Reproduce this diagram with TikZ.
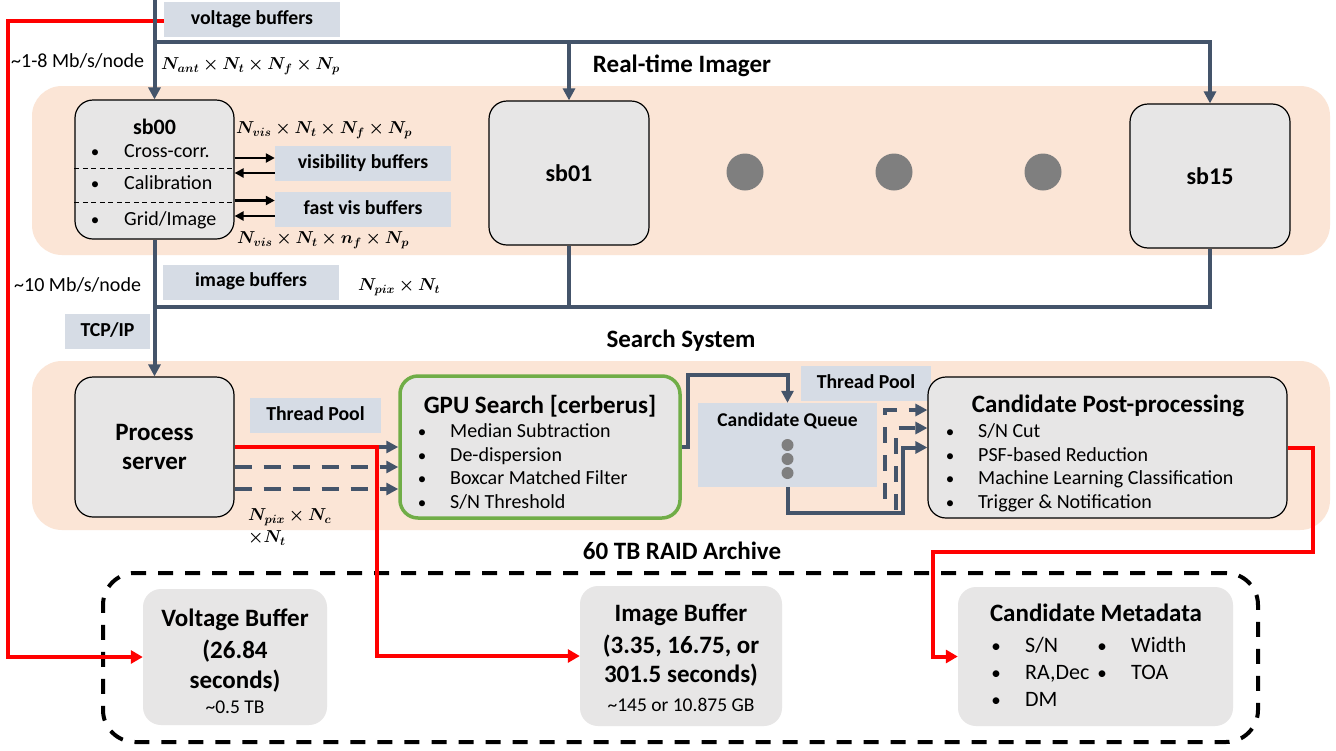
\documentclass[tikz,border=0pt]{standalone}
\usepackage{amsmath,bm}
\usepackage{fontspec}
\setmainfont{Carlito}
\usetikzlibrary{arrows.meta,calc}
\definecolor{dk}{HTML}{44546A}
\definecolor{peach}{HTML}{FBE5D6}
\definecolor{lblc}{HTML}{D6DCE5}
\definecolor{boxg}{HTML}{E7E6E6}
\definecolor{grn}{HTML}{70AD47}
\definecolor{dotg}{HTML}{7F7F7F}
\definecolor{rd}{HTML}{FF0000}
\tikzset{
  lblbox/.style={fill=lblc, minimum width=176pt, minimum height=35pt, inner sep=0pt,
    text height=13pt, text depth=4pt, font=\fontsize{19.8}{23}\selectfont\bfseries},
  sbbox/.style={draw=black, line width=1.2pt, fill=boxg, rounded corners=18pt, inner sep=0pt},
  stbox/.style={fill=boxg, rounded corners=18pt, inner sep=0pt},
  ttl/.style={inner sep=0pt, text height=17pt, text depth=5pt, font=\fontsize{25}{30}\selectfont\bfseries},
  qttl/.style={inner sep=0pt, text height=13pt, text depth=4pt, font=\fontsize{19.5}{23}\selectfont\bfseries},
  itm/.style={inner sep=0pt, anchor=west, text height=14pt, text depth=4pt, font=\fontsize{20}{24}\selectfont},
  bul/.style={inner sep=0pt, text height=14pt, text depth=4pt, font=\fontsize{17}{23}\selectfont},
  citm/.style={itm, font=\fontsize{22}{26}\selectfont},
  cbul/.style={bul, font=\fontsize{19}{25}\selectfont},
  small/.style={inner sep=0pt, text height=13pt, text depth=4pt, font=\fontsize{19.5}{23}\selectfont},
  mth/.style={inner sep=0pt, anchor=west, font=\fontsize{17.28}{22}\selectfont},
  dkline/.style={draw=dk, line width=4pt},
  dkarrow/.style={dkline, -{Triangle[length=12pt,width=12pt]}},
  dkdash/.style={dkarrow, dash pattern=on 17pt off 12pt},
  bkarrow/.style={draw=black, line width=2.6pt, -{Triangle[length=9pt,width=9pt]}},
  rdarrow/.style={draw=rd, line width=4pt, -{Triangle[length=12pt,width=13pt]}},
  sep/.style={draw=black, line width=1pt, dash pattern=on 5pt off 3.5pt},
}
\begin{document}
\begin{tikzpicture}[x=1pt,y=-1pt]
\fill[white] (0,0) rectangle (1336,750);
\path[use as bounding box] (0,0) rectangle (1336,750);

% panels
\fill[peach, rounded corners=30pt] (32,86) rectangle (1330,255);
\fill[peach, rounded corners=30pt] (32,361) rectangle (1330,530);
\node[draw=black, line width=4pt, dash pattern=on 15pt off 12pt, rounded corners=32pt,
  minimum width=1155pt, minimum height=169pt, inner sep=0pt] (arch) at (680.5,657.5) {};

% titles
\node[ttl] (tRTI) at (682,66) {Real-time Imager};
\node[ttl] (tSS) at (681,341) {Search System};
\node[ttl] (tRA) at (682,553) {60 TB RAID Archive};

% rate labels
\node[itm] (rate1) at (11,62) {\textasciitilde 1-8 Mb/s/node};
\node[itm] (rate2) at (14,286) {\textasciitilde 10 Mb/s/node};

% label boxes
\node[lblbox] (vbuf) at (252,19.5) {voltage buffers};
\node[lblbox] (visb) at (363,163.5) {visibility buffers};
\node[lblbox] (fvb) at (363,209.5) {fast vis buffers};
\node[lblbox] (ibuf) at (251,282) {image buffers};
\node[lblbox, minimum width=85pt] (tcp) at (107.5,331.5) {TCP/IP};
\node[lblbox, minimum width=131pt] (tp1) at (315.5,415.5) {Thread Pool};
\node[lblbox, minimum width=130pt] (tp2) at (866,383.5) {Thread Pool};
\node[lblbox, minimum width=179pt, minimum height=84pt] (queue) at (787.5,445) {};
\node[qttl] (queueT) at (787.5,422) {Candidate Queue};
\node[circle, fill=dotg, minimum size=12pt, inner sep=0pt] (qd1) at (787.5,445) {};
\node[circle, fill=dotg, minimum size=12pt, inner sep=0pt] (qd2) at (787.5,459) {};
\node[circle, fill=dotg, minimum size=12pt, inner sep=0pt] (qd3) at (787.5,473) {};

% imager boxes
\node[sbbox, minimum width=159pt, minimum height=139pt] (sb00) at (154.5,169.5) {};
\node[inner sep=0pt, font=\fontsize{22}{26}\selectfont\bfseries] (sb00t) at (154.5,127) {sb00};
\draw[sep] (sb00.west |- 0,168) -- (sb00.east |- 0,168);
\draw[sep] (sb00.west |- 0,202) -- (sb00.east |- 0,202);
\node[bul] (sbb1) at (95,152) {\textbullet};
\node[itm] (sbi1) at (124,152) {Cross-corr.};
\node[bul] (sbb2) at (95,184) {\textbullet};
\node[itm] (sbi2) at (124,184) {Calibration};
\node[bul] (sbb3) at (95,220) {\textbullet};
\node[itm] (sbi3) at (124,220) {Grid/Image};

\node[sbbox, minimum width=160pt, minimum height=144pt, font=\fontsize{24}{30}\selectfont\bfseries] (sb01) at (569,173) {sb01};
\node[sbbox, minimum width=160pt, minimum height=144pt, font=\fontsize{24}{30}\selectfont\bfseries] (sb15) at (1210,176) {sb15};
\node[circle, fill=dotg, minimum size=37pt, inner sep=0pt] (dot1) at (745,172) {};
\node[circle, fill=dotg, minimum size=37pt, inner sep=0pt] (dot2) at (894,172) {};
\node[circle, fill=dotg, minimum size=37pt, inner sep=0pt] (dot3) at (1043,172) {};

% math labels
\node[mth] (m1) at (161,66) {$\bm{N_{ant}\times N_t\times N_f\times N_p}$};
\node[mth] (m2) at (236,130) {$\bm{N_{vis}\times N_t\times N_f\times N_p}$};
\node[mth] (m3) at (237,240) {$\bm{N_{vis}\times N_t\times n_f\times N_p}$};
\node[mth] (m4) at (358,287) {$\bm{N_{pix}\times N_t}$};
\node[mth] (m5) at (248,517) {$\bm{N_{pix}\times N_c}$};
\node[mth] (m6) at (248,538) {$\bm{\times N_t}$};

% search boxes
\node[sbbox, minimum width=159pt, minimum height=140pt, align=center,
  font=\fontsize{25}{29}\selectfont\bfseries] (ps) at (154.5,447) {Process\\server};
\node[sbbox, draw=grn, line width=3.5pt, minimum width=280pt, minimum height=142pt] (gpu) at (540,447) {};
\node[ttl] (gpuT) at (540,407) {GPU Search [cerberus]};
\node[bul] (gb1) at (422,432) {\textbullet};
\node[itm] (gi1) at (450,432) {Median Subtraction};
\node[bul] (gb2) at (422,456) {\textbullet};
\node[itm] (gi2) at (450,456) {De-dispersion};
\node[bul] (gb3) at (422,479) {\textbullet};
\node[itm] (gi3) at (450,479) {Boxcar Matched Filter};
\node[bul] (gb4) at (422,503) {\textbullet};
\node[itm] (gi4) at (450,503) {S/N Threshold};

\node[sbbox, minimum width=359pt, minimum height=141pt] (post) at (1107.5,447.5) {};
\node[ttl] (postT) at (1108,406) {Candidate Post-processing};
\node[bul] (pb1) at (950,432) {\textbullet};
\node[itm] (pi1) at (978,432) {S/N Cut};
\node[bul] (pb2) at (950,456) {\textbullet};
\node[itm] (pi2) at (978,456) {PSF-based Reduction};
\node[bul] (pb3) at (950,479) {\textbullet};
\node[itm] (pi3) at (978,479) {Machine Learning Classification};
\node[bul] (pb4) at (950,503) {\textbullet};
\node[itm] (pi4) at (978,503) {Trigger \& Notification};

% archive boxes
\node[stbox, minimum width=184pt, minimum height=136pt] (VB) at (235,657) {};
\node[ttl] (vb1) at (235,620) {Voltage Buffer};
\node[ttl] (vb2) at (235,652) {(26.84};
\node[ttl] (vb3) at (235,682) {seconds)};
\node[small] (vb4) at (235,709) {\textasciitilde 0.5 TB};

\node[stbox, minimum width=202pt, minimum height=140pt] (IB) at (681,656) {};
\node[ttl] (ib1) at (681,615) {Image Buffer};
\node[ttl] (ib2) at (681,647) {(3.35, 16.75, or};
\node[ttl] (ib3) at (681,676) {301.5 seconds)};
\node[small] (ib4) at (681,707) {\textasciitilde 145 or 10.875 GB};

\node[stbox, minimum width=275pt, minimum height=139pt] (CM) at (1095.5,656.5) {};
\node[ttl] (cm0) at (1096,615) {Candidate Metadata};
\node[cbul] (cb1) at (996,647) {\textbullet};
\node[citm] (ci1) at (1025,647) {S/N};
\node[cbul] (cb2) at (996,674) {\textbullet};
\node[citm] (ci2) at (1025,674) {RA,Dec};
\node[cbul] (cb3) at (996,701) {\textbullet};
\node[citm] (ci3) at (1025,701) {DM};
\node[cbul] (cb4) at (1102,647) {\textbullet};
\node[citm] (ci4) at (1131,647) {Width};
\node[cbul] (cb5) at (1102,674) {\textbullet};
\node[citm] (ci5) at (1131,674) {TOA};

% red path 1
\coordinate (r1) at (8,21);
\draw[rdarrow] (vbuf.west |- r1) -- (r1) |- (VB.west);

% dark network
\coordinate (vtop) at (154.5,0);
\draw[dkarrow] (vtop) -- (sb00.north);
\coordinate (hb) at (154.5,42);
\draw[dkarrow] (hb) -| (sb15.north);
\draw[dkarrow] (sb01.north |- hb) -- (sb01.north);
\draw[dkarrow] (sb00.south) -- (ps.north);
\coordinate (hb2) at (154.5,307);
\draw[dkline] (hb2) -| (sb15.south);
\draw[dkline] (sb01.south) -- (sb01.south |- hb2);

% sb00 <-> buffers
\coordinate (a1) at ([yshift=5.5pt]visb.west);
\coordinate (a2) at ([yshift=-9.5pt]visb.west);
\coordinate (a3) at ([yshift=9pt]fvb.west);
\coordinate (a4) at ([yshift=-6.5pt]fvb.west);
\draw[bkarrow] (a1 -| sb00.east) -- (a1);
\draw[bkarrow] (a2) -- (a2 -| sb00.east);
\draw[bkarrow] (a3 -| sb00.east) -- (a3);
\draw[bkarrow] (a4) -- (a4 -| sb00.east);

% process server -> gpu
\coordinate (p2) at ([yshift=-20pt]ps.east);
\coordinate (p3) at ([yshift=-42pt]ps.east);
\draw[dkarrow] (ps.east) -- (ps.east -| gpu.west);
\draw[dkdash] (p2) -- (p2 -| gpu.west);
\draw[dkdash] (p3) -- (p3 -| gpu.west);

% gpu -> queue -> post
\coordinate (q1) at (688,375);
\draw[dkarrow] (gpu.east) -| (q1) -| (queue.north);
\coordinate (q2) at (903,513);
\coordinate (d1) at (885,410);
\coordinate (d2) at (896,428);
\draw[dkdash, dash pattern=on 16pt off 12pt] (queue.south |- q2) -| (d1) -- (d1 -| post.west);
\draw[dkdash, dash pattern=on 16pt off 12pt] (queue.south |- q2) -| (d2) -- (d2 -| post.west);
\draw[dkarrow] (queue.south) |- (q2) |- (post.west);

% red paths 2 and 3
\coordinate (r2) at (377,447);
\draw[rdarrow] (ps.east) -- (r2) |- (IB.west);
\coordinate (r3a) at (1313,552);
\coordinate (r3b) at (933,552);
\draw[rdarrow] (post.east) -| (r3a) -- (r3b) |- (CM.west);
\end{tikzpicture}
\end{document}
